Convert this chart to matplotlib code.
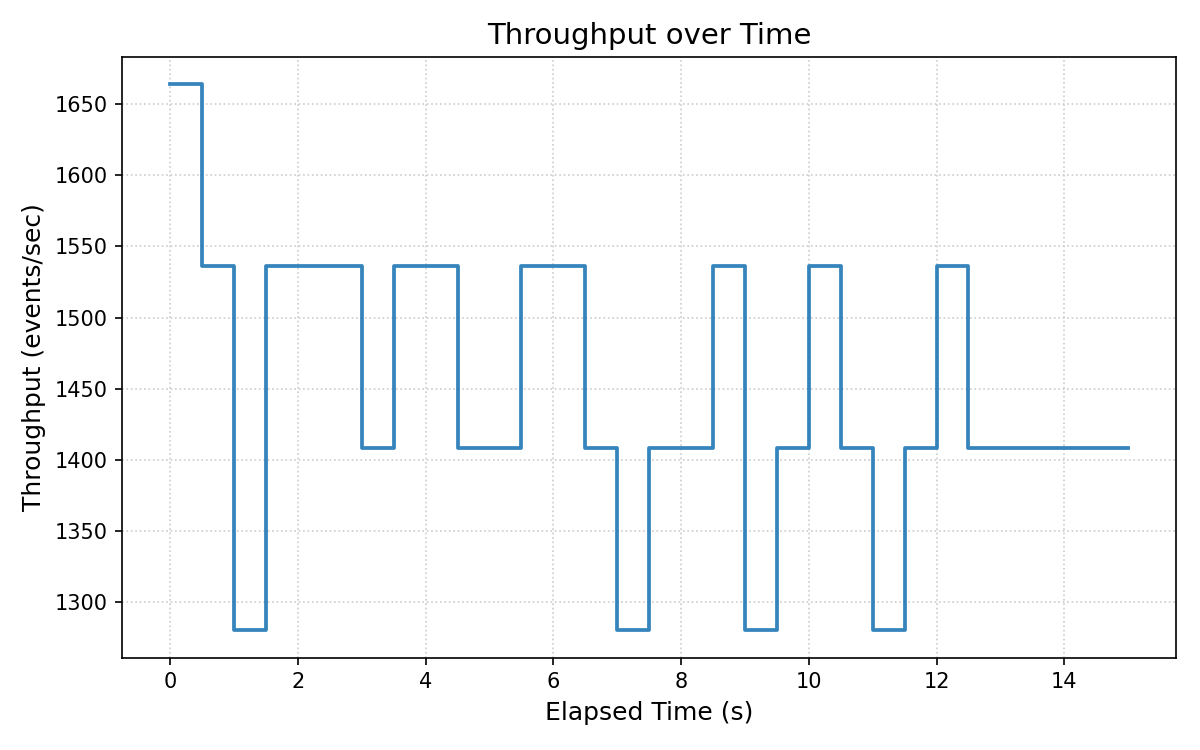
import matplotlib
matplotlib.use('Agg')
import matplotlib.pyplot as plt
import numpy as np

# Sample times (s) and throughput at each step (events/sec)
elapsed_time = np.arange(0, 15.5, 0.5)
throughput = [1664, 1536, 1280, 1536, 1536, 1536, 1408, 1536, 1536, 1408,
              1408, 1536, 1536, 1408, 1280, 1408, 1408, 1536, 1280, 1408,
              1536, 1408, 1280, 1408, 1536, 1408, 1408, 1408, 1408, 1408,
              1408]

fig, ax = plt.subplots(figsize=(8, 5), dpi=150)
ax.step(elapsed_time, throughput, where='post', color='#1f77b4', alpha=0.9, linewidth=1.8)

ax.set_title('Throughput over Time', fontsize=14)
ax.set_xlabel('Elapsed Time (s)', fontsize=12)
ax.set_ylabel('Throughput (events/sec)', fontsize=12)
ax.grid(True, linestyle=':', color='#cccccc', linewidth=0.8)

plt.subplots_adjust(left=0.102, right=0.98, top=0.924, bottom=0.123)
plt.savefig('out.png')
